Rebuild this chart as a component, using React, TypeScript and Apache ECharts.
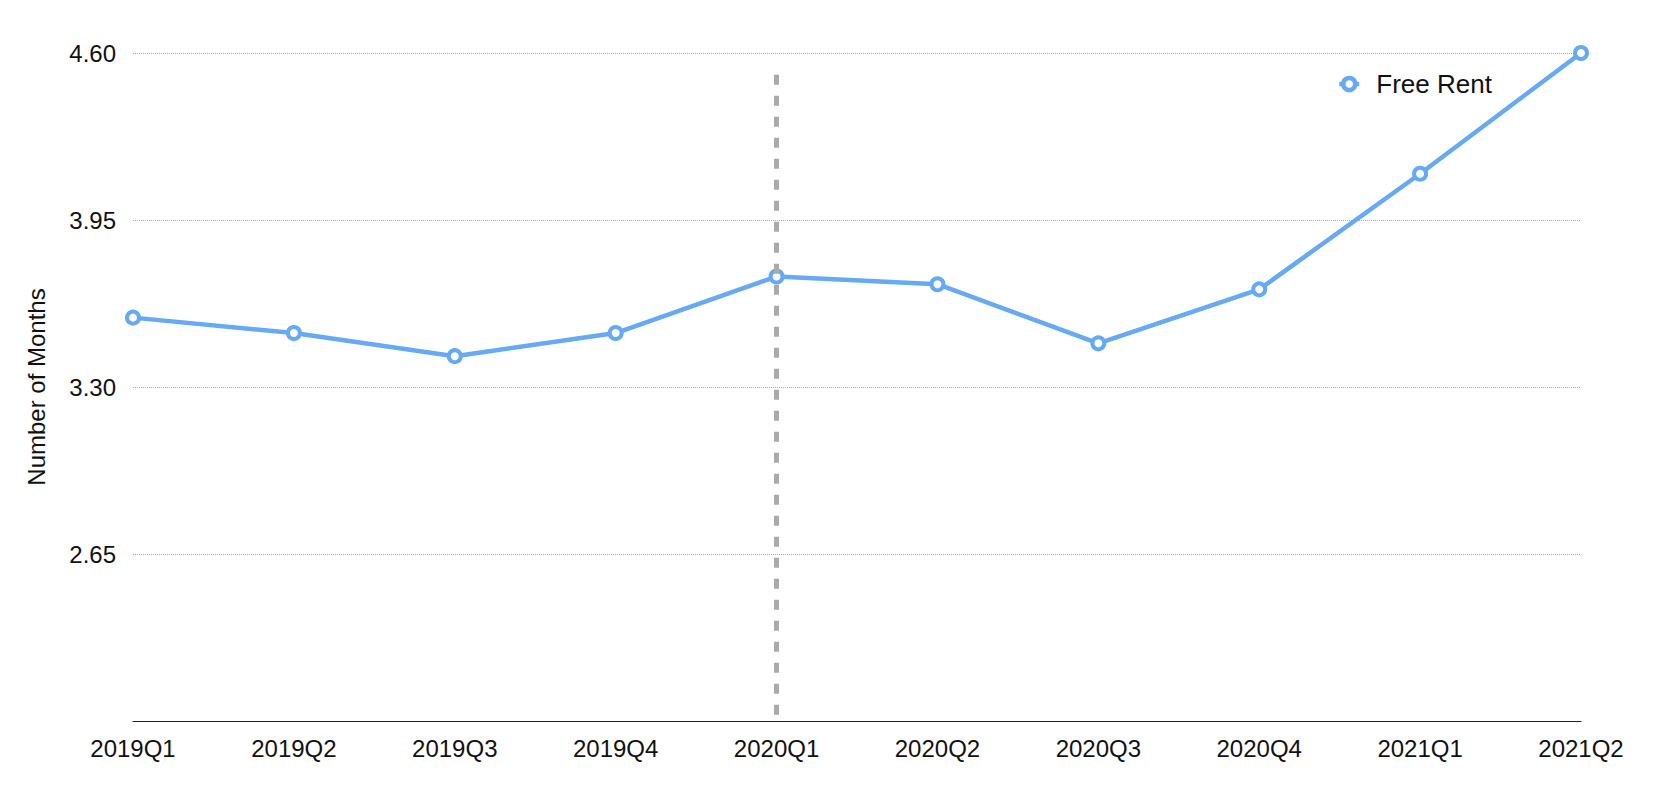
import React, { useEffect, useRef } from "react";
import * as echarts from "echarts";

const categories = ["2019Q1", "2019Q2", "2019Q3", "2019Q4", "2020Q1", "2020Q2", "2020Q3", "2020Q4", "2021Q1", "2021Q2"];
const freeRent = [3.57, 3.51, 3.42, 3.51, 3.73, 3.70, 3.47, 3.68, 4.13, 4.60];
const axisBase = 2.0;
const axisTop = 4.6;
const axisStep = 0.65;
const markerCategory = "2020Q1";
const markerTop = 4.515;

const FONT = '"Liberation Sans", Arial, Helvetica, sans-serif';
const BLUE = "#66a9f4";

export default function App() {
  const ref = useRef<HTMLDivElement>(null);
  useEffect(() => {
    document.body.style.margin = "0";
    if (!ref.current) return;
    const chart = echarts.init(ref.current, undefined, { renderer: "svg" });
    chart.setOption({
      animation: false,
      backgroundColor: "#ffffff",
      textStyle: { fontFamily: FONT },
      grid: { left: 133, right: 83, top: 53, bottom: 75, containLabel: false },
      legend: {
        left: 1332,
        top: 66,
        itemWidth: 20,
        itemHeight: 15,
        data: ["Free Rent"],
        itemStyle: { color: "#ffffff", borderColor: BLUE, borderWidth: 4.5 },
        lineStyle: { color: BLUE, width: 4.5 },
        textStyle: { fontSize: 26, color: "#111", fontFamily: FONT, padding: [0, 0, 0, 12] },
      },
      xAxis: {
        type: "category",
        data: categories,
        boundaryGap: false,
        axisLine: { show: true, lineStyle: { color: "#222", width: 1.2 } },
        axisTick: { show: false },
        axisLabel: { fontSize: 24, color: "#111", margin: 15, fontFamily: FONT },
        splitLine: { show: false },
      },
      yAxis: {
        type: "value",
        min: 0,
        max: +(axisTop - axisBase).toFixed(2),
        interval: axisStep,
        name: "Number of Months",
        nameLocation: "middle",
        nameGap: 85,
        nameTextStyle: { fontSize: 24, color: "#111", fontFamily: FONT },
        axisLine: { show: false },
        axisTick: { show: false },
        axisLabel: {
          fontSize: 24,
          color: "#111",
          margin: 17,
          fontFamily: FONT,
          formatter: (v: number) => (v < 1e-6 ? "" : (v + axisBase).toFixed(2)),
        },
        splitLine: { show: true, lineStyle: { color: "#aaaaaa", type: "dotted", width: 1 } },
      },
      series: [
        {
          name: "Free Rent",
          type: "line",
          data: freeRent.map((v) => +(v - axisBase).toFixed(4)),
          symbol: "circle",
          symbolSize: 12,
          lineStyle: { color: BLUE, width: 4.5 },
          itemStyle: { color: "#ffffff", borderColor: BLUE, borderWidth: 4 },
          z: 3,
          markLine: {
            silent: true,
            symbol: ["none", "none"],
            label: { show: false },
            lineStyle: { color: "#aaaaaa", type: [10, 11], width: 5 },
            z: 5,
            data: [
              [
                { coord: [markerCategory, +(markerTop - axisBase).toFixed(4)] },
                { coord: [markerCategory, 0] },
              ],
            ],
          },
        },
      ],
    });
    return () => chart.dispose();
  }, []);
  return <div ref={ref} style={{ width: 1664, height: 796 }} />;
}
